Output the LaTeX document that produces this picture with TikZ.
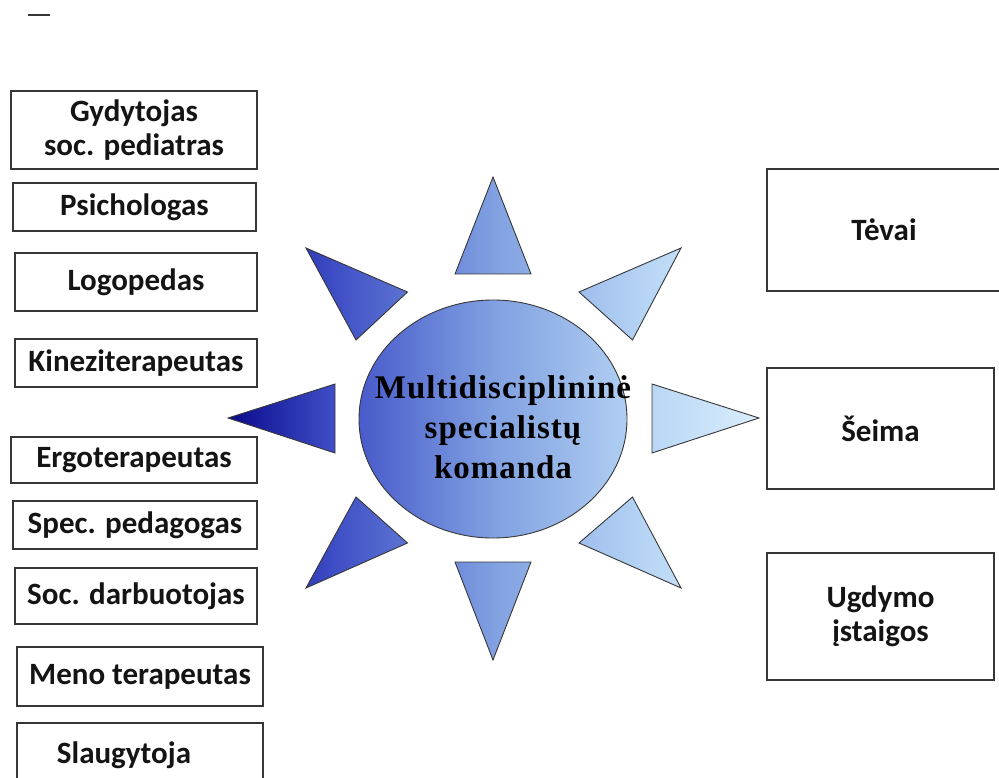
\documentclass[tikz,border=0pt]{standalone}
\usepackage{fontspec}
\setmainfont{Carlito}
\newfontfamily\teamfont[LetterSpace=3]{Liberation Serif}

\definecolor{sunA}{RGB}{10,10,140}
\definecolor{sunB}{RGB}{62,78,198}
\definecolor{sunC}{RGB}{128,160,225}
\definecolor{sunD}{RGB}{185,215,245}
\definecolor{sunE}{RGB}{218,237,252}
\definecolor{edge}{RGB}{55,55,55}
\definecolor{ink}{RGB}{20,20,20}

% blue-to-light-blue gradient shared by the whole sun
\pgfdeclarehorizontalshading{sunshade}{100bp}{color(0bp)=(sunA); color(25bp)=(sunA);
  color(35bp)=(sunB); color(50bp)=(sunC); color(65bp)=(sunD); color(75bp)=(sunE); color(100bp)=(sunE)}

\tikzset{
  sunfill/.style={path picture={\shade[shading=sunshade] (228,170) rectangle (759,670);}},
  ray/.style={draw=edge, line width=0.9, sunfill},
  rolebox/.style={draw=edge, line width=1.2, rectangle, inner sep=0pt, align=center,
    text=ink, font=\bfseries\fontsize{31}{34}\selectfont},
  teamtext/.style={align=center, text=black, inner sep=0pt,
    font=\teamfont\bfseries\fontsize{33}{40}\selectfont},
}

\begin{document}
\begin{tikzpicture}[x=1pt, y=-1pt]
\useasboundingbox (0,0) rectangle (999,778);
\clip (0,0) rectangle (999,778);

% short rule in the corner
\draw[edge, line width=1.6] (28,15) -- (50,15);

% specialists on the left
\node[rolebox, minimum width=246, minimum height=78] (gyd) at (134,130) {Gydytojas\\soc. pediatras};
\node[rolebox, minimum width=243, minimum height=48] (psi) at (134.5,207) {Psichologas};
\node[rolebox, minimum width=242, minimum height=58] (log) at (136,282) {Logopedas};
\node[rolebox, minimum width=242, minimum height=48] (kin) at (136,363) {Kineziterapeutas};
\node[rolebox, minimum width=246, minimum height=46] (erg) at (134,460) {Ergoterapeutas};
\node[rolebox, minimum width=244, minimum height=48] (spe) at (135,525) {Spec. pedagogas};
\node[rolebox, minimum width=242, minimum height=56] (soc) at (136,596) {Soc. darbuotojas};
\node[rolebox, minimum width=246, minimum height=59] (men) at (140,676.5) {Meno terapeutas};
\node[rolebox, minimum width=246, minimum height=67] (sla) at (140,756.5) {};
\node[text=ink, font=\bfseries\fontsize{31}{34}\selectfont, inner sep=0pt] (slat) at (124,755) {Slaugytoja};

% partners on the right
\node[rolebox, minimum width=234, minimum height=122] (tev) at (884,230) {Tėvai};
\node[rolebox, minimum width=227, minimum height=121] (sei) at (880.5,428.5) {Šeima};
\node[rolebox, minimum width=227, minimum height=127] (ugd) at (880.5,616.5) {Ugdymo\\įstaigos};

% rays of the sun
\path[ray] (493,177) -- (531,274) -- (455,274) -- cycle;
\path[ray] (681,248) -- (632.5,340) -- (579,292) -- cycle;
\path[ray] (759,418) -- (652,453) -- (652,384) -- cycle;
\path[ray] (681,588) -- (579,543) -- (632.5,497) -- cycle;
\path[ray] (493,660) -- (455,562) -- (531,562) -- cycle;
\path[ray] (306,588) -- (356,497) -- (407.5,543) -- cycle;
\path[ray] (228,418) -- (335,384) -- (335,453) -- cycle;
\path[ray] (306,248) -- (407.5,292) -- (356,340) -- cycle;

% the team in the middle
\path[ray] (493,419) ellipse [x radius=134, y radius=119];
\node[teamtext] (team) at (503,427) {Multidisciplininė\\specialistų\\komanda};
\end{tikzpicture}
\end{document}
